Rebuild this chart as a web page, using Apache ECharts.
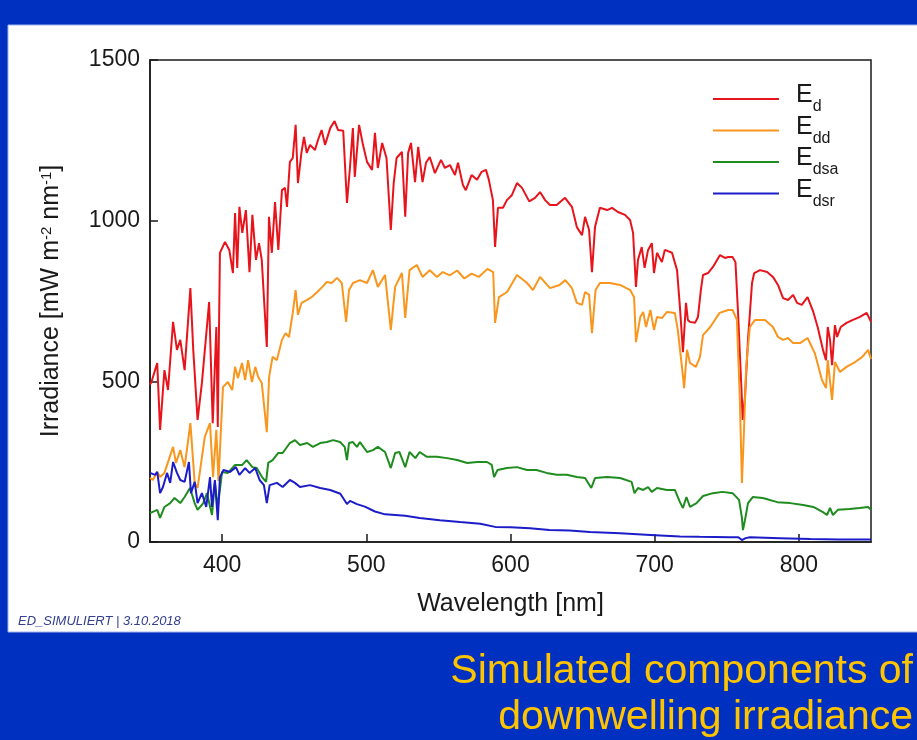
<!DOCTYPE html>
<html>
<head>
<meta charset="utf-8">
<script src="https://cdn.jsdelivr.net/npm/echarts@6.0.0/dist/echarts.min.js"></script>
<style>
  html, body { margin: 0; padding: 0; background: #0030c0; }
  #chart { width: 917px; height: 740px; }
</style>
</head>
<body>
<div id="chart"></div>
<script>
// wavelengths (nm) and irradiance values
var wlEd = [350,351,355,357,360,362.5,366,368.7,371,374,378,380,383,386,391,393.5,396,397,398.5,402,405,407.5,409,410.5,412,414,416.5,419,421,423.5,425.6,427.5,431,432.5,434.5,436.7,439,441.5,443.6,445,447,449,451,452.6,455,456.8,458.7,461,464.4,466.5,469,471.4,475,478,480.4,484,486.6,488.7,490.7,492,495,497.7,500.5,504,506,508,511,514,517,519,521,524.7,527,529,531,533.8,536,539,541.4,544,547.6,551.8,554.5,558,561.5,563.6,567,569,573,576.8,580,583,585,587.8,589.3,591.3,594.8,597.5,601,604.5,608,613,617,620.5,624,627.4,632,637.8,642.6,646,649.6,651.7,654.5,656.5,658.6,662,667,670.4,674.5,679.4,682.9,685,687,688.4,691,693,695.4,698,699.5,701.6,705,707,712,715.5,717.5,719.6,721.7,723,724.5,728,730,732,733.5,737,740.4,745.3,748.7,751,754,756,757.8,760.5,761,762.6,764.7,767.5,769,773,778,782,785.5,789,792.5,796,798.7,802,806,810,813,816.7,818.8,820,821.6,823,825,826.5,829,833,837.5,842,847,850];
var ed = [490,498,557,349,535,473,685,598,629,535,790,598,380,495,747,370,669,358,900,934,909,837,1024,853,1043,962,1033,840,1018,878,930,878,607,1012,900,1058,909,1095,1102,1043,1183,1195,1298,1117,1211,1261,1211,1236,1220,1251,1282,1236,1288,1310,1282,1280,1055,1167,1288,1136,1298,1236,1183,1158,1273,1164,1242,1195,971,1117,1195,1214,1012,1211,1242,1120,1230,1120,1180,1198,1148,1189,1164,1173,1142,1180,1111,1095,1142,1127,1152,1158,1127,1064,918,1040,1040,1064,1080,1117,1102,1060,1071,1089,1064,1049,1049,1071,1043,980,955,1012,971,840,980,1040,1033,1040,1027,1018,1002,962,794,878,918,853,909,930,837,900,871,909,900,846,731,591,744,691,685,682,700,784,831,837,856,893,884,887,887,871,713,442,380,451,629,806,837,846,840,825,800,759,753,769,744,738,762,716,669,598,566,669,629,550,675,638,669,682,691,700,713,685];

var wlEdd = [350,352,355,357,360,366,368,371,374,378,381,383,388,391.6,393.7,396,397.5,400.6,404,407,409,411,413.8,416,418,420.7,423,425,427.5,431,432.6,435,438,441.5,444,446.4,449,451,452.6,455,458.7,462,466,469.5,472.7,476,479.7,483,486,488,490.8,495.6,500.5,504.6,508,513,517,520,524.7,527,530,535,539,544,549,553,558,563,568,573,578,584,588,589.3,592,597.6,604.5,611.5,615.6,620.5,627.4,634,638,642.6,646,649.6,651.7,654.5,656.5,659,662,669,676,683,685.7,687,690,692,694,697,699.5,701.6,705,708.5,714,716,719,720.4,722.4,724.5,728.6,731.4,733.5,738.5,745,751,754,757,759,760.5,762,763.4,766,769.6,776.5,782,785.5,789,792.5,796,800.8,806,811,816,818.8,820,823,825,828.5,833,839,844,848,850];
var edd = [200,193,218,202,215,296,246,286,233,370,184,168,327,370,202,349,190,482,498,473,545,510,557,504,566,498,545,514,495,342,514,576,566,629,650,638,713,784,707,744,753,762,778,794,809,806,822,806,685,784,806,815,806,846,794,831,660,794,837,697,846,862,825,846,825,840,830,845,820,835,825,850,840,682,762,778,831,806,784,825,790,800,815,790,744,738,778,769,650,784,806,806,800,784,762,622,700,716,669,722,660,700,697,716,713,660,541,479,598,557,545,576,644,669,713,722,722,691,451,184,358,545,669,691,691,669,638,629,635,619,619,635,588,504,479,566,442,560,529,545,560,576,598,570];

var wlEdsa = [350,355,357,360,364,367,371,374,377.7,381,383,387,389.5,393,395,397,400,404,409,414,417,421,424,427.7,430.5,432,435,439,442,447,450.5,454,459,463,468,472.7,477,481.8,485,486.6,488,490.7,493.5,495.6,500.5,504.6,508,513,517,520,523,527,530,534,537,542,549,556,563,570,576.8,583.7,587,588.6,591,597.5,604.5,611.5,618,625,632,639,646,651.7,656,658.6,667,676,684,686,688.4,692,695.4,698,701.6,708.5,714,717.5,719.6,722,724.5,729,733.5,740.4,747,754,758.5,760.5,761.2,762.6,764.7,768,775,785,794,803,810,816.7,819.5,821.6,823.6,827,835,842,848,850];
var edsa = [90,100,75,109,121,137,121,140,168,121,100,121,152,84,184,109,218,215,240,240,255,233,230,202,187,246,255,277,277,308,317,302,308,296,308,311,317,311,296,255,308,311,296,311,280,286,296,280,230,277,280,233,280,261,280,265,265,261,255,246,249,249,240,202,224,230,233,224,224,215,209,209,202,199,168,199,202,199,187,152,168,162,171,156,168,162,162,124,106,140,109,121,143,152,156,152,131,75,37,68,121,140,137,124,121,115,109,93,84,106,84,100,103,106,109,100];

var wlEdsr = [350,353.5,355,357,359,361.8,364,366,368.7,371,374,377,378.4,381,383,386,389,391.6,393,395,397,398.5,401,405.5,409.6,412,416,419,423,426,429,431,433,438,442,447,450.5,454,461,468,475,482,486.6,488.7,493.5,499,506,513,520,527,537,551,565,579,589.3,600,613.5,627,641,655,676,697,717.5,731,752,758,760.5,763,766,787,808,828,850];
var edsr = [215,209,218,152,171,215,184,249,215,193,187,249,152,187,121,152,109,202,109,193,68,202,224,218,233,209,230,215,230,193,177,121,177,184,171,193,184,171,177,168,162,150,118,128,118,110,95,86,84,82,75,68,62,57,47,46,43,37,36,31,27,22,17,16,15,15,6,12,15,12,9,8,8];

var xTicks = [400, 500, 600, 700, 800];

function pairs(wl, v) {
  return wl.map(function (w, i) { return [w, v[i]]; });
}

var myChart = echarts.init(document.getElementById('chart'));
var font = '"Liberation Sans", Arial, sans-serif';

function line(name, color, wl, v) {
  return {
    name: name,
    type: 'line',
    showSymbol: false,
    symbol: 'none',
    data: pairs(wl, v),
    lineStyle: { color: color, width: 2 },
    itemStyle: { color: color },
    animation: false
  };
}

myChart.setOption({
  backgroundColor: '#0030c0',
  textStyle: { fontFamily: font },
  graphic: [
    {
      type: 'rect', z: -10,
      shape: { x: 8, y: 25, width: 912, height: 607 },
      style: { fill: '#ffffff', stroke: '#9fb4ee', lineWidth: 1 }
    },
    {
      type: 'text', x: 18, y: 621,
      style: {
        text: 'ED_SIMULIERT | 3.10.2018', fill: '#34408f',
        font: 'italic 13px "Liberation Sans", Arial, sans-serif',
        verticalAlign: 'middle'
      }
    },
    {
      type: 'text', x: 913, y: 649,
      style: {
        text: 'Simulated components of\ndownwelling irradiance',
        fill: '#ffc400', align: 'right', verticalAlign: 'top',
        font: '41px "Liberation Sans", Arial, sans-serif',
        lineHeight: 46
      }
    }
  ],
  grid: {
    left: 150, right: 46, top: 60, bottom: 198,
    show: true, borderColor: '#1a1a1a', borderWidth: 1.5,
    backgroundColor: 'transparent'
  },
  legend: {
    orient: 'vertical',
    left: 708, top: 78,
    itemWidth: 66, itemHeight: 2,
    itemGap: -0.5,
    icon: 'rect',
    data: ['Ed', 'Edd', 'Edsa', 'Edsr'],
    formatter: function (n) { return '{e|E}{s|' + n.slice(1) + '}'; },
    textStyle: {
      color: '#1a1a1a',
      rich: {
        e: { fontSize: 25, padding: [0, 0, 7, 12], fontFamily: font, color: '#1a1a1a' },
        s: { fontSize: 16, verticalAlign: 'bottom', fontFamily: font, color: '#1a1a1a' }
      }
    }
  },
  xAxis: {
    type: 'value',
    min: 350, max: 850,
    name: 'Wavelength [nm]',
    nameLocation: 'middle',
    nameGap: 50,
    nameTextStyle: { fontSize: 25, color: '#1a1a1a' },
    axisLine: { show: true, lineStyle: { color: '#1a1a1a', width: 1.5 } },
    axisTick: { show: true, inside: true, length: 8, customValues: xTicks, lineStyle: { color: '#1a1a1a', width: 1.5 } },
    axisLabel: { customValues: xTicks, fontSize: 23, color: '#1a1a1a', margin: 12 },
    splitLine: { show: false }
  },
  yAxis: {
    type: 'value',
    min: 0, max: 1500, interval: 500,
    name: '{n|Irradiance [mW m}{s|-2}{n| nm}{s|-1}{n|]}',
    nameLocation: 'middle',
    nameRotate: 90,
    nameGap: 86,
    nameTextStyle: {
      rich: {
        n: { fontSize: 25, color: '#1a1a1a', fontFamily: font },
        s: { fontSize: 15, color: '#1a1a1a', verticalAlign: 'top', fontFamily: font }
      }
    },
    axisLine: { show: true, lineStyle: { color: '#1a1a1a', width: 1.5 } },
    axisTick: { show: true, inside: true, length: 8, lineStyle: { color: '#1a1a1a', width: 1.5 } },
    axisLabel: {
      fontSize: 23, color: '#1a1a1a', margin: 10,
      formatter: function (v) { return String(v); }
    },
    splitLine: { show: false }
  },
  series: [
    line('Ed', '#e8141c', wlEd, ed),
    line('Edd', '#f8961e', wlEdd, edd),
    line('Edsa', '#1e8c1e', wlEdsa, edsa),
    line('Edsr', '#1c1cc8', wlEdsr, edsr)
  ]
});
</script>
</body>
</html>
